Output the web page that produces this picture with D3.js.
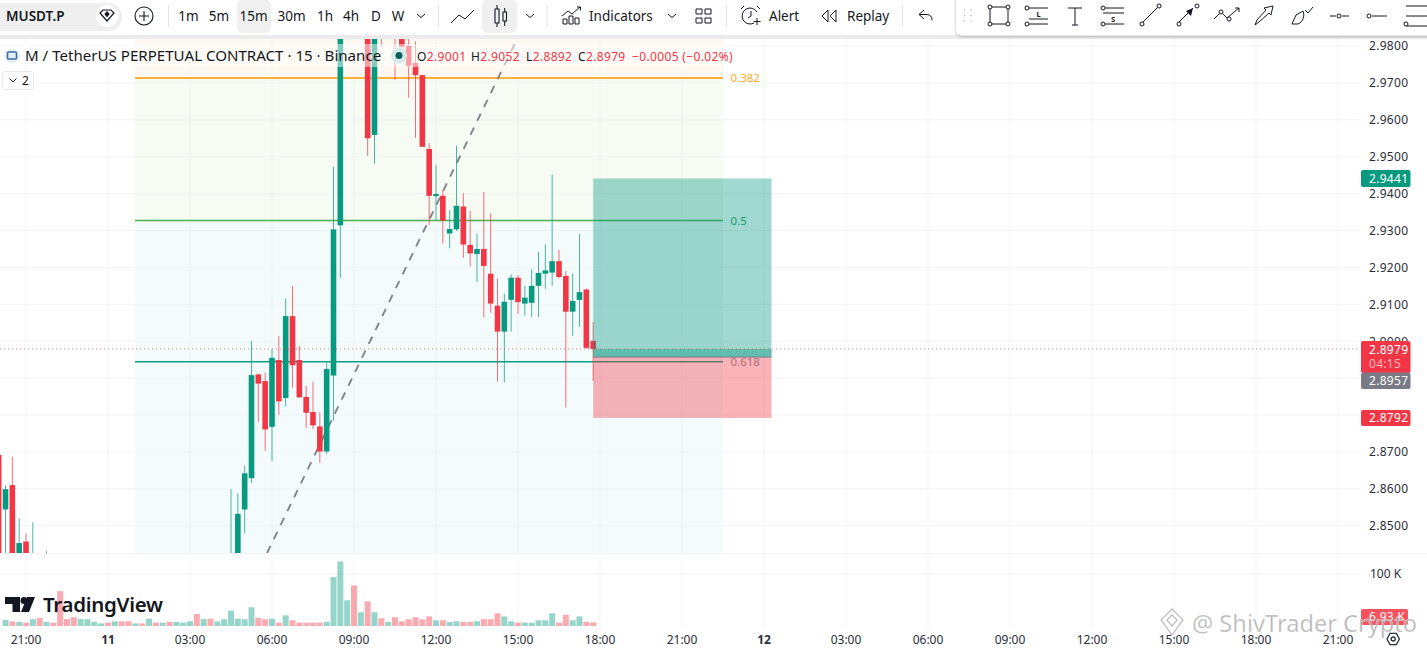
<!DOCTYPE html>
<html><head><meta charset="utf-8">
<script src="https://cdn.jsdelivr.net/npm/d3@7"></script>
<style>
html,body{margin:0;padding:0;background:#fff;overflow:hidden}
svg{display:block}
text{font-family:"Noto Sans",sans-serif}
</style></head><body>
<svg id="c" width="1427" height="648"></svg>
<script>
// ---- data ----
// slot = number of 15-minute bars after 11th 00:00
const candleSlots=[-16,-15,-14,-13,-12,-11,-9,18,19,20,21,22,23,24,25,26,27,28,29,30,31,32,33,34,38,39,40,42,43,44,45,46,47,48,49,50,51,52,53,54,55,56,57,58,59,60,61,62,63,64,65,66,67,68,69,70,71];
const opens =[2.8692,2.8544,2.8610,2.8400,2.8457,2.8350,2.8300,2.8350,2.8400,2.8544,2.8629,2.8910,2.8892,2.8768,2.8949,2.8846,2.9068,2.8949,2.8849,2.8808,2.8769,2.8701,2.8907,2.9314,2.9950,2.9559,2.9950,2.9950,2.9900,2.9800,2.9754,2.9721,2.9521,2.9393,2.9394,2.9292,2.9303,2.9365,2.9261,2.9236,2.9250,2.9183,2.9096,2.9026,2.9112,2.9172,2.9102,2.9104,2.9150,2.9183,2.9186,2.9217,2.9177,2.9080,2.9112,2.9140,2.9001];
const highs =[2.8692,2.8610,2.8687,2.8520,2.8479,2.8509,2.8431,2.8599,2.8588,2.8663,2.9001,2.8912,2.8914,2.8979,2.9014,2.9116,2.9150,2.8987,2.8879,2.8890,2.8808,2.8942,2.9473,2.9950,3.0000,2.9950,3.0000,3.0000,2.9950,2.9850,2.9812,2.9722,2.9537,2.9478,2.9410,2.9356,2.9530,2.9401,2.9353,2.9292,2.9404,2.9347,2.9170,2.9128,2.9181,2.9179,2.9150,2.9195,2.9242,2.9263,2.9452,2.9247,2.9190,2.9183,2.9290,2.9143,2.9052];
const lows  =[2.8350,2.8400,2.8380,2.8380,2.8380,2.8300,2.8250,2.8300,2.8380,2.8479,2.8616,2.8781,2.8703,2.8675,2.8800,2.8823,2.8874,2.8846,2.8765,2.8762,2.8670,2.8694,2.8784,2.9172,2.9502,2.9481,2.9797,2.9708,2.9789,2.9660,2.9551,2.9526,2.9315,2.9328,2.9265,2.9252,2.9299,2.9226,2.9202,2.9160,2.9064,2.9077,2.8891,2.8888,2.9026,2.9074,2.9069,2.9066,2.9066,2.9142,2.9150,2.9170,2.8820,2.9015,2.9039,2.8979,2.8892];
const closes=[2.8400,2.8599,2.8400,2.8453,2.8400,2.8400,2.8350,2.8400,2.8532,2.8642,2.8908,2.8885,2.8761,2.8955,2.8837,2.9068,2.8935,2.8848,2.8806,2.8772,2.8701,2.8925,2.9303,2.9900,2.9550,2.9900,2.9850,2.9880,2.9798,2.9746,2.9721,2.9527,2.9394,2.9399,2.9327,2.9304,2.9367,2.9262,2.9238,2.9250,2.9204,2.9102,2.9026,2.9107,2.9172,2.9106,2.9118,2.9150,2.9185,2.9192,2.9217,2.9174,2.9080,2.9109,2.9133,2.8982,2.8979];
const volumeFirstSlot=-15;
const volumes=[12,9,8,6.5,13,15.5,8,6.5,67,13.5,17,13.5,13,8,5,6.5,9,9,9,5,5,14,6.5,6.5,8,8,6.5,9,23,13.5,14,9,13,29.5,14,13,36,15.5,13,14,6.5,20.5,11,6.5,
 6.5,6.5,6.5,8,94,124,49.5,78,26.5,47.5,26.5,15,8,17,9,13,17,13,18.5,11,11,8,9,8,8,9,13,13,24.5,18.5,9,6.5,6.5,6.5,11,11,24.5,6.5,21.5,11,18.5,8,6.93];
const volumeDirs="grgrgrgrrrrggggrgrrgrgrgrgggrgrggggggrrgrgrr"+"rrrggggrgrgrgrrrrrrgrggrrgrrrggrgggggrrggrr";
const priceTicks=[2.98,2.97,2.96,2.95,2.94,2.93,2.92,2.91,2.90,2.89,2.88,2.87,2.86,2.85];
const hiddenPriceLabels=[2.89,2.88];
const timeTickHours=[-3,0,3,6,9,12,15,18,21,24,27,30,33,36,39,42,45];
const timeTickLabels=["21:00","11","03:00","06:00","09:00","12:00","15:00","18:00","21:00","12","03:00","06:00","09:00","12:00","15:00","18:00","21:00"];
const fibLevels=[2.9713,2.9327,2.8944];
const fibNames=["0.382","0.5","0.618"];
const trendSlots=[23.27,60];
const trendPrices=[2.8426,2.9824];
const entry=2.8957,target=2.9441,stop=2.8792,last=2.8979;
const positionSlots=[71,97.1];
const fibSlots=[3.95,90];
const legendValues=["2.9001","2.9052","2.8892","2.8979"];
const legendKeys=["O","H","L","C"];
const timeframes=["1m","5m","15m","30m","1h","4h","D","W"];

// ---- scales ----
const W=1427,H=648,paneR=1360,paneTop=39,paneBot=553,volBot=626,timeY=628;
const UP="#089981",DOWN="#f23645",GRID="#f1f3f6",TXT="#131722";
const x=d3.scaleLinear().domain([0,72]).range([108,600]);      // slots
const y=d3.scaleLinear().domain([2.98,2.85]).range([46,525.7]);
const v=d3.scaleLinear().domain([0,100]).range([volBot,574]);
const barW=5.6,volW=6;
const svg=d3.select("#c");
const defs=svg.append("defs");
defs.append("clipPath").attr("id","pane").append("rect").attr("x",0).attr("y",paneTop).attr("width",paneR).attr("height",paneBot-paneTop);
const f=defs.append("filter").attr("id","sh").attr("x","-5%").attr("y","-20%").attr("width","110%").attr("height","160%");
f.append("feDropShadow").attr("dx",0).attr("dy",1).attr("stdDeviation",1.5).attr("flood-color","#000").attr("flood-opacity",.3);

// grid
const grid=svg.append("g");
grid.selectAll("line.h").data(priceTicks).join("line").attr("x1",0).attr("x2",paneR).attr("y1",d=>y(d)).attr("y2",d=>y(d)).attr("stroke",GRID);
grid.append("line").attr("x1",0).attr("x2",paneR).attr("y1",v(100)).attr("y2",v(100)).attr("stroke",GRID);
grid.selectAll("line.v").data(timeTickHours).join("line").attr("x1",d=>x(d*4)).attr("x2",d=>x(d*4)).attr("y1",paneTop).attr("y2",timeY).attr("stroke",GRID);
svg.append("line").attr("x1",0).attr("x2",W).attr("y1",paneBot+.5).attr("y2",paneBot+.5).attr("stroke","#f3f4f6");

const pane=svg.append("g").attr("clip-path","url(#pane)");
// fib zones
const fx0=x(fibSlots[0]),fx1=x(fibSlots[1]);
const zones=[[paneTop,y(fibLevels[0]),"#fff8f0"],[y(fibLevels[0]),y(fibLevels[1]),"#f6fbf3"],[y(fibLevels[1]),y(fibLevels[2]),"#f3fbfb"],[y(fibLevels[2]),paneBot,"#f3fbfd"]];
pane.selectAll("rect.z").data(zones).join("rect").attr("x",fx0).attr("width",fx1-fx0).attr("y",d=>d[0]).attr("height",d=>d[1]-d[0]).attr("fill",d=>d[2]);
pane.selectAll("line.gh").data(priceTicks).join("line").attr("x1",fx0).attr("x2",fx1).attr("y1",d=>y(d)).attr("y2",d=>y(d)).attr("stroke","#eef2f4").attr("opacity",.8);
pane.selectAll("line.gv").data(timeTickHours.filter(h=>x(h*4)>fx0&&x(h*4)<fx1)).join("line").attr("x1",d=>x(d*4)).attr("x2",d=>x(d*4)).attr("y1",paneTop).attr("y2",paneBot).attr("stroke","#eef2f4").attr("opacity",.8);

// fib lines and trend, under the candles
const fibCols=["#ff9800","#4caf50","#0a9f87"];
pane.selectAll("line.f").data(fibLevels).join("line").attr("x1",fx0).attr("x2",fx1).attr("y1",d=>y(d)).attr("y2",d=>y(d)).attr("stroke",(d,i)=>fibCols[i]).attr("stroke-width",1.5);
pane.append("line").attr("x1",x(trendSlots[0])).attr("y1",y(trendPrices[0])).attr("x2",x(trendSlots[1])).attr("y2",y(trendPrices[1])).attr("stroke","#808489").attr("stroke-width",1.9).attr("stroke-dasharray","8 7.5");

// candles
const candles=candleSlots.map((s,i)=>({s,o:opens[i],h:highs[i],l:lows[i],c:closes[i]}));
const col=d=>d.c>=d.o?UP:DOWN;
const cg=pane.append("g");
cg.selectAll("line").data(candles).join("line").attr("x1",d=>x(d.s)).attr("x2",d=>x(d.s)).attr("y1",d=>y(d.h)).attr("y2",d=>y(d.l)).attr("stroke",col).attr("stroke-width",1).attr("opacity",.72);
cg.selectAll("rect").data(candles).join("rect").attr("x",d=>x(d.s)-barW/2).attr("width",barW).attr("y",d=>y(Math.max(d.o,d.c))).attr("height",d=>Math.max(1,Math.abs(y(d.o)-y(d.c)))).attr("fill",col);

// fib labels
const labCols=["#ffa726","#2fa36b","#8a8f98"];
svg.selectAll("text.fl").data(fibNames).join("text").attr("x",fx1+7.5).attr("y",(d,i)=>y(fibLevels[i])+4).attr("font-size",11.5).attr("fill",(d,i)=>labCols[i]).text(d=>d);

// position tool
const px0=x(positionSlots[0]),px1=x(positionSlots[1]);
svg.append("rect").attr("x",px0).attr("width",px1-px0).attr("y",y(target)).attr("height",y(entry)-y(target)).attr("fill","#089981").attr("fill-opacity",.38);
svg.append("rect").attr("x",px0).attr("width",px1-px0).attr("y",y(entry)).attr("height",y(stop)-y(entry)).attr("fill","#f23645").attr("fill-opacity",.38);
svg.append("rect").attr("x",px0).attr("width",px1-px0).attr("y",y(last)).attr("height",y(entry)-y(last)).attr("fill","#089981").attr("fill-opacity",.4);
svg.append("line").attr("x1",px0).attr("x2",px1).attr("y1",y(entry)).attr("y2",y(entry)).attr("stroke","#787b86").attr("stroke-width",1);
// current price line
svg.append("line").attr("x1",0).attr("x2",paneR).attr("y1",y(last)).attr("y2",y(last)).attr("stroke",DOWN).attr("stroke-opacity",.7).attr("stroke-dasharray","1 3");

// volumes
const vols=volumes.map((d,i)=>({s:volumeFirstSlot+i,d,up:volumeDirs[i]==="g"}));
svg.append("g").selectAll("rect").data(vols).join("rect").attr("x",d=>x(d.s)-volW/2).attr("width",volW).attr("y",d=>v(d.d)).attr("height",d=>volBot-v(d.d)).attr("fill",d=>d.up?UP:DOWN).attr("fill-opacity",.42);

// legend backdrop
svg.append("rect").attr("x",0).attr("y",44).attr("width",735).attr("height",23).attr("fill","#fff").attr("fill-opacity",.5);
svg.append("circle").attr("cx",12).attr("cy",56).attr("r",7.5).attr("fill","#e3eff6");
svg.append("rect").attr("x",7.5).attr("y",52).attr("width",9).attr("height",7).attr("rx",1).attr("fill","none").attr("stroke","#3f6ea5").attr("stroke-width",1.6);
svg.append("text").attr("x",25).attr("y",61).attr("font-size",15.1).attr("fill",TXT).text("M / TetherUS PERPETUAL CONTRACT · 15 · Binance");
svg.append("circle").attr("cx",399).attr("cy",55.5).attr("r",8).attr("fill","#d5ecea");
svg.append("circle").attr("cx",399).attr("cy",55.5).attr("r",3.5).attr("fill","#0c5e60");
const legX=[417,471,526,578];
const lg=svg.append("g").attr("font-size",12).attr("letter-spacing",".35");
legendKeys.forEach((k,i)=>{
  const t=lg.append("text").attr("x",legX[i]).attr("y",60.5).attr("fill",TXT);
  t.append("tspan").text(k);
  t.append("tspan").attr("fill",DOWN).text(legendValues[i]);
});
lg.append("text").attr("x",632).attr("y",60.5).attr("fill",DOWN).text("−0.0005 (−0.02%)");
svg.append("rect").attr("x",2.5).attr("y",71.5).attr("width",31).attr("height",18).attr("rx",3).attr("fill","#fff").attr("stroke","#e5e7eb");
svg.append("path").attr("d","M9.5 78.5l3.5 3.5 3.5-3.5").attr("fill","none").attr("stroke",TXT);
svg.append("text").attr("x",22).attr("y",85).attr("font-size",12).attr("fill",TXT).text("2");

// price axis
const pa=svg.append("g");
pa.selectAll("text").data(priceTicks.filter(p=>!hiddenPriceLabels.includes(p))).join("text").attr("x",1369).attr("y",d=>y(d)+4.3).attr("font-size",12).attr("letter-spacing",".3").attr("fill","#2a2e39").text(d=>d.toFixed(4));
function tag(y0,h,fill,lines,w){
  pa.append("rect").attr("x",1361).attr("y",y0).attr("width",w||49.5).attr("height",h).attr("rx",2).attr("fill",fill);
  lines.forEach(l=>pa.append("text").attr("x",1369).attr("y",l[1]).attr("font-size",12).attr("letter-spacing",".3").attr("fill",l[2]||"#fff").text(l[0]));
}
tag(y(target)-8.5,17,UP,[[target.toFixed(4),y(target)+4.3]]);
tag(341,32,DOWN,[[last.toFixed(4),353.5],["04:15",368,"#ffb3ba"]]);
tag(372.5,16.5,"#787b86",[[entry.toFixed(4),385.3]]);
tag(y(stop)-8,16,DOWN,[[stop.toFixed(4),y(stop)+4.3]]);
pa.append("text").attr("x",1370).attr("y",578).attr("font-size",12).attr("fill","#2a2e39").text("100 K");
tag(609,16,"#f7525f",[["6.93 K",621]],47);

// time axis
svg.append("g").selectAll("text").data(timeTickHours).join("text").attr("x",d=>x(d*4)).attr("y",644).attr("text-anchor","middle").attr("font-size",12).attr("fill","#2a2e39").attr("font-weight",(d,i)=>timeTickLabels[i].length<3?700:400).text((d,i)=>timeTickLabels[i]);
svg.append("path").attr("d","M1387 639l3-5.6h6.4l3 5.6-3 5.6h-6.4z").attr("fill","none").attr("stroke","#2a2e39").attr("stroke-width",1.3);
svg.append("circle").attr("cx",1393.2).attr("cy",639).attr("r",2).attr("fill","none").attr("stroke","#2a2e39").attr("stroke-width",1.3);

// TradingView watermark
svg.append("path").attr("d","M5 597h15v15h-7.5v-8H5z M27 597h8l-6 15h-8z").attr("fill","#131722");
svg.append("circle").attr("cx",24).attr("cy",600.5).attr("r",3.5).attr("fill","#131722");
svg.append("text").attr("x",43).attr("y",612).attr("font-size",20.5).attr("font-weight",600).attr("fill","#131722").attr("font-family","Inter").attr("letter-spacing","-.3").text("TradingView");

// author watermark
const wm=svg.append("g");
wm.append("path").attr("d","M1172 609l11 11-11 15-11-15z M1172 615l5 5-5 6-5-6z").attr("fill","#fff").attr("fill-opacity",.6).attr("stroke","#c0c0c0").attr("stroke-width",1.3);
wm.append("text").attr("x",1192).attr("y",632).attr("font-size",23.6).attr("fill","#aaaaaa").attr("fill-opacity",.85).attr("stroke","#fff").attr("stroke-opacity",.5).attr("stroke-width",.6).text("@ ShivTrader Crypto");

// top bar
const bar=svg.append("g");
bar.append("rect").attr("width",W).attr("height",35).attr("fill","#fff");
bar.append("rect").attr("y",35).attr("width",W).attr("height",4).attr("fill","#ebebeb");
bar.append("rect").attr("x",-14).attr("y",3).attr("width",136).attr("height",28).attr("rx",14).attr("fill","#efefef");
bar.append("text").attr("x",6).attr("y",21).attr("font-size",13.5).attr("font-weight",600).attr("fill",TXT).text("MUSDT.P");
bar.append("circle").attr("cx",107).attr("cy",16).attr("r",11).attr("fill","#fff");
bar.append("path").attr("d","M100 13l3-3h8l3 3-7 8z").attr("fill","none").attr("stroke",TXT).attr("stroke-width",1.2);
bar.append("path").attr("d","M107 11l2.6 3-2.6 3.4-2.6-3.4z").attr("fill",TXT);
bar.append("circle").attr("cx",144).attr("cy",16).attr("r",9).attr("fill","none").attr("stroke",TXT).attr("stroke-width",1.1);
bar.append("path").attr("d","M139 16h10M144 11v10").attr("stroke",TXT).attr("stroke-width",1.1);
bar.append("rect").attr("x",237).attr("y",0).attr("width",34).attr("height",33).attr("rx",5).attr("fill","#f0f0f0");
bar.append("rect").attr("x",482).attr("y",0).attr("width",35).attr("height",33).attr("rx",5).attr("fill","#f0f0f0");
const tfX=[188.5,219,253.5,291.5,325,351,376,398];
bar.selectAll("text.tf").data(timeframes).join("text").attr("x",(d,i)=>tfX[i]).attr("y",21).attr("text-anchor","middle").attr("font-size",13.5).attr("fill",TXT).text(d=>d);
const sepX=[168.5,438.5,547,726.5,902.5];
bar.selectAll("line.s").data(sepX).join("line").attr("x1",d=>d).attr("x2",d=>d).attr("y1",5).attr("y2",27).attr("stroke","#e4e4e4");
const ic=(d,sw)=>bar.append("path").attr("d",d).attr("fill","none").attr("stroke",TXT).attr("stroke-width",sw||1);
[[417,14],[526,14],[668,14]].forEach(p=>ic(`M${p[0]} ${p[1]}l4 3.5 4-3.5`));
ic("M451 23l8-8 6 4 9-9");
ic("M495 9h4v14h-4zM497 5v4M497 23v4M503 12h3.5v9H503zM504.7 8v4M504.7 21v5",1.1);
ic("M563 24v-5h4v5zM569 24v-8h4v8zM575 24v-6h4v6zM562 16l6-5 4 3 8-7M577 7h3.5v3.5");
bar.append("text").attr("x",589).attr("y",21).attr("font-size",13.5).attr("fill",TXT).text("Indicators");
ic("M696 9h6v5h-6zM705 9h6v5h-6zM696 18h6v5h-6zM705 18h6v5h-6z");
ic("M757 12a8 8 0 1 0-3 11M751 11v5l-3 2M744 6l-3 3M757 6l3 3M757 18v7M753.5 21.5h7");
bar.append("text").attr("x",769).attr("y",21).attr("font-size",13.5).attr("fill",TXT).text("Alert");
ic("M828 10l-6 6 6 6zM836 10l-6 6 6 6z");
bar.append("text").attr("x",847).attr("y",21).attr("font-size",13.5).attr("fill",TXT).text("Replay");
ic("M924 10l-5 4.5 5 4.5M919 14.5h8a5 5 0 0 1 5 5v1");
// drawing bar
bar.append("rect").attr("x",956).attr("y",-8).attr("width",480).attr("height",43.5).attr("rx",6).attr("fill","#fff").attr("filter","url(#sh)");
const dots=[];[964.5,971].forEach(a=>[10,15.5,21].forEach(b=>dots.push([a,b])));
bar.selectAll("circle.d").data(dots).join("circle").attr("cx",d=>d[0]).attr("cy",d=>d[1]).attr("r",.8).attr("fill","#b8bcc4");
const node=(a,b)=>bar.append("circle").attr("cx",a).attr("cy",b).attr("r",2).attr("fill","#fff").attr("stroke",TXT);
ic("M990 7h18M990 24h18M990 7v17M1008 7v17");
[[990,7],[1008,7],[990,24],[1008,24]].forEach(p=>node(...p));
ic("M1029 8h19M1029 19h19M1029 24h19");
node(1027,8);node(1027,24);
bar.append("text").attr("x",1036.5).attr("y",17).attr("font-size",7.5).attr("font-weight",700).attr("fill",TXT).text("L");
ic("M1068 8h14M1075 8v17M1072 25h6");
ic("M1105 8h19M1103 13h21M1105 24h19");
node(1103,8);node(1103,24);
bar.append("text").attr("x",1111).attr("y",22).attr("font-size",7.5).attr("font-weight",700).attr("fill",TXT).text("S");
ic("M1143 22l15-15");node(1142,24);node(1159,6);
ic("M1179 22l14-14");bar.append("path").attr("d","M1186 11l7-3-2 8z").attr("fill",TXT);node(1179,24);node(1197,6);
ic("M1214 19l7-7 6 6 12-10M1235 8h4v4");node(1221,12);node(1229,19);
ic("M1255 25l2-5 9-10-2-2 9-2-2 9-2-2-10 9z");
ic("M1292 24l4-9 7-4c2 5 0 11-5 13zM1305 10l3 3 5-6");
ic("M1330 16h6M1342 16h7");node(1339,16);
ic("M1372 16h15");node(1369,16);
ic("M1406 6h21M1406 16h21M1406 26h21");node(1406,24);
</script>
</body></html>
